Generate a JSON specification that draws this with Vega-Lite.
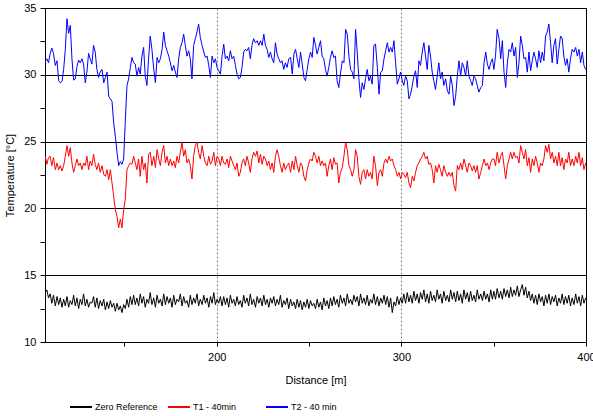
{
"$schema":"https://vega.github.io/schema/vega-lite/v6.json",
"width":541,"height":334,
"autosize":{"type":"none"},
"padding":{"left":45,"top":8,"right":7,"bottom":74},
"background":"white",
"config":{"view":{"stroke":"black","strokeWidth":1},"font":"Liberation Sans"},
"data":{"values":[
{"d":106.2,"z":14.2,"a":23.7,"b":30.55},{"d":107.1,"z":13.7,"a":23.9,"b":31.0},{"d":108.0,"z":13.9,"a":23.3,"b":31.2},{"d":108.9,"z":13.3,"a":23.8,"b":30.9},{"d":109.8,"z":13.6,"a":23.9,"b":31.6},{"d":110.7,"z":12.9,"a":23.2,"b":32.0},{"d":111.6,"z":13.5,"a":23.8,"b":31.6},{"d":112.6,"z":12.7,"a":22.9,"b":30.7},{"d":113.5,"z":13.4,"a":23.4,"b":31.05},{"d":114.4,"z":12.8,"a":22.9,"b":29.55},{"d":115.3,"z":13.3,"a":23.2,"b":29.4},{"d":116.2,"z":12.6,"a":22.8,"b":29.5},{"d":117.1,"z":13.2,"a":23.2,"b":30.4},{"d":118.0,"z":12.7,"a":23.9,"b":31.9},{"d":118.9,"z":13.4,"a":24.7,"b":34.2},{"d":119.8,"z":12.6,"a":23.9,"b":33.1},{"d":120.7,"z":13.1,"a":24.55,"b":33.7},{"d":121.6,"z":12.8,"a":23.4,"b":31.2},{"d":122.5,"z":13.5,"a":22.7,"b":29.6},{"d":123.4,"z":12.7,"a":23.2,"b":29.7},{"d":124.3,"z":13.3,"a":23.7,"b":30.6},{"d":125.2,"z":12.5,"a":23.2,"b":31.1},{"d":126.1,"z":13.2,"a":23.4,"b":30.9},{"d":127.0,"z":12.8,"a":22.9,"b":31.2},{"d":127.9,"z":13.6,"a":23.4,"b":30.8},{"d":128.8,"z":12.7,"a":23.2,"b":29.4},{"d":129.7,"z":13.2,"a":23.9,"b":30.2},{"d":130.6,"z":12.6,"a":22.9,"b":31.6},{"d":131.5,"z":13.0,"a":23.55,"b":31.2},{"d":132.4,"z":12.9,"a":23.2,"b":30.8},{"d":133.3,"z":13.4,"a":24.05,"b":32.2},{"d":134.2,"z":12.6,"a":23.3,"b":31.7},{"d":135.1,"z":13.3,"a":22.9,"b":30.4},{"d":136.0,"z":12.5,"a":23.4,"b":29.8},{"d":136.9,"z":13.1,"a":22.7,"b":30.2},{"d":137.9,"z":12.7,"a":23.2,"b":30.4},{"d":138.8,"z":13.2,"a":22.55,"b":29.4},{"d":139.7,"z":12.4,"a":22.4,"b":29.8},{"d":140.6,"z":13.0,"a":22.9,"b":30.2},{"d":141.5,"z":12.5,"a":22.15,"b":28.4},{"d":142.4,"z":13.1,"a":22.9,"b":28.2},{"d":143.3,"z":12.6,"a":21.9,"b":28.0},{"d":144.2,"z":12.9,"a":20.9,"b":26.4},{"d":145.1,"z":12.3,"a":19.9,"b":25.4},{"d":146.0,"z":12.9,"a":19.4,"b":24.2},{"d":146.9,"z":12.4,"a":18.55,"b":23.2},{"d":147.8,"z":12.7,"a":19.2,"b":23.5},{"d":148.7,"z":12.2,"a":18.55,"b":23.3},{"d":149.6,"z":12.8,"a":19.9,"b":23.7},{"d":150.5,"z":12.5,"a":20.7,"b":26.6},{"d":151.4,"z":13.2,"a":22.9,"b":29.2},{"d":152.3,"z":12.6,"a":23.2,"b":29.7},{"d":153.2,"z":13.4,"a":23.4,"b":30.55},{"d":154.1,"z":12.8,"a":23.3,"b":31.3},
{"d":155.0,"z":13.5,"a":23.9,"b":30.9},{"d":155.9,"z":12.8,"a":23.4,"b":30.8},{"d":156.8,"z":13.3,"a":22.9,"b":29.9},{"d":157.7,"z":12.7,"a":23.7,"b":30.55},{"d":158.6,"z":13.6,"a":22.4,"b":30.05},{"d":159.5,"z":12.9,"a":23.9,"b":31.4},{"d":160.4,"z":13.4,"a":22.9,"b":32.05},{"d":161.3,"z":12.6,"a":23.4,"b":29.9},{"d":162.2,"z":13.2,"a":21.9,"b":29.2},{"d":163.1,"z":12.9,"a":24.05,"b":31.2},{"d":164.0,"z":13.7,"a":24.2,"b":32.9},{"d":164.9,"z":12.8,"a":23.2,"b":31.9},{"d":165.9,"z":13.3,"a":23.9,"b":30.4},{"d":166.8,"z":12.6,"a":23.05,"b":29.4},{"d":167.7,"z":13.5,"a":24.4,"b":31.3},{"d":168.6,"z":12.9,"a":23.7,"b":30.9},{"d":169.5,"z":13.2,"a":23.2,"b":31.2},{"d":170.4,"z":12.7,"a":24.2,"b":31.9},{"d":171.3,"z":13.6,"a":24.7,"b":33.2},{"d":172.2,"z":12.8,"a":23.4,"b":32.2},{"d":173.1,"z":13.4,"a":23.9,"b":31.8},{"d":174.0,"z":12.9,"a":23.2,"b":31.4},{"d":174.9,"z":13.3,"a":23.7,"b":30.9},{"d":175.8,"z":12.6,"a":23.2,"b":30.3},{"d":176.7,"z":13.5,"a":23.55,"b":30.7},{"d":177.6,"z":12.8,"a":23.05,"b":30.2},{"d":178.5,"z":13.2,"a":23.9,"b":29.8},{"d":179.4,"z":13.0,"a":23.4,"b":31.2},{"d":180.3,"z":13.6,"a":24.2,"b":32.05},{"d":181.2,"z":12.7,"a":24.95,"b":32.4},{"d":182.1,"z":13.4,"a":23.9,"b":33.05},{"d":183.0,"z":12.9,"a":24.4,"b":32.2},{"d":183.9,"z":13.1,"a":23.4,"b":31.4},{"d":184.8,"z":12.6,"a":23.7,"b":31.8},{"d":185.7,"z":13.5,"a":23.2,"b":31.2},{"d":186.6,"z":12.8,"a":22.2,"b":29.7},{"d":187.5,"z":13.3,"a":23.9,"b":32.2},{"d":188.4,"z":12.9,"a":24.7,"b":32.7},{"d":189.3,"z":13.6,"a":24.95,"b":33.2},{"d":190.2,"z":12.7,"a":24.2,"b":33.8},{"d":191.1,"z":13.2,"a":23.7,"b":32.8},{"d":192.1,"z":12.8,"a":24.7,"b":32.2},{"d":193.0,"z":13.5,"a":23.9,"b":31.7},{"d":193.9,"z":12.9,"a":23.4,"b":31.3},{"d":194.8,"z":13.3,"a":23.2,"b":31.4},{"d":195.7,"z":12.6,"a":23.9,"b":30.7},{"d":196.6,"z":13.4,"a":23.3,"b":29.8},{"d":197.5,"z":12.9,"a":23.55,"b":31.4},{"d":198.4,"z":13.7,"a":24.2,"b":30.9},{"d":199.3,"z":12.8,"a":23.2,"b":31.2},{"d":200.2,"z":13.2,"a":23.9,"b":30.55},{"d":201.1,"z":12.9,"a":23.7,"b":30.3},{"d":202.0,"z":13.4,"a":23.2,"b":30.05},{"d":202.9,"z":12.7,"a":23.9,"b":31.4},
{"d":203.8,"z":13.4,"a":23.4,"b":32.3},{"d":204.7,"z":12.8,"a":23.3,"b":31.2},{"d":205.6,"z":13.3,"a":23.7,"b":31.4},{"d":206.5,"z":12.6,"a":23.05,"b":31.05},{"d":207.4,"z":13.5,"a":23.9,"b":31.8},{"d":208.3,"z":12.9,"a":23.55,"b":31.2},{"d":209.2,"z":13.2,"a":23.2,"b":31.4},{"d":210.1,"z":12.7,"a":22.9,"b":30.7},{"d":211.0,"z":13.4,"a":23.4,"b":30.05},{"d":211.9,"z":12.8,"a":22.4,"b":29.7},{"d":212.8,"z":13.1,"a":22.7,"b":29.8},{"d":213.7,"z":12.6,"a":23.4,"b":30.55},{"d":214.6,"z":13.5,"a":23.7,"b":31.7},{"d":215.5,"z":12.9,"a":23.2,"b":31.9},{"d":216.4,"z":13.3,"a":23.9,"b":31.8},{"d":217.3,"z":12.7,"a":23.4,"b":32.05},{"d":218.2,"z":13.6,"a":22.7,"b":31.2},{"d":219.1,"z":12.8,"a":23.7,"b":32.2},{"d":220.0,"z":13.2,"a":24.2,"b":32.7},{"d":221.0,"z":12.6,"a":23.9,"b":32.4},{"d":221.9,"z":13.4,"a":24.3,"b":32.55},{"d":222.8,"z":12.9,"a":23.4,"b":32.2},{"d":223.7,"z":13.3,"a":24.05,"b":32.55},{"d":224.6,"z":12.7,"a":23.3,"b":32.2},{"d":225.5,"z":13.5,"a":23.9,"b":33.05},{"d":226.4,"z":12.8,"a":23.7,"b":32.2},{"d":227.3,"z":13.2,"a":23.2,"b":31.9},{"d":228.2,"z":12.6,"a":23.55,"b":31.3},{"d":229.1,"z":13.3,"a":22.9,"b":31.7},{"d":230.0,"z":12.9,"a":23.4,"b":31.2},{"d":230.9,"z":13.4,"a":22.7,"b":30.9},{"d":231.8,"z":12.7,"a":23.9,"b":32.4},{"d":232.7,"z":13.2,"a":24.4,"b":31.55},{"d":233.6,"z":12.8,"a":23.9,"b":31.2},{"d":234.5,"z":13.5,"a":23.2,"b":30.9},{"d":235.4,"z":12.6,"a":22.7,"b":31.05},{"d":236.3,"z":13.1,"a":23.4,"b":30.4},{"d":237.2,"z":12.8,"a":22.9,"b":30.9},{"d":238.1,"z":13.3,"a":23.2,"b":30.55},{"d":239.0,"z":12.5,"a":23.4,"b":31.2},{"d":240.0,"z":13.2,"a":22.7,"b":31.3},{"d":240.9,"z":12.7,"a":23.55,"b":30.05},{"d":241.8,"z":13.0,"a":22.9,"b":31.55},{"d":242.7,"z":12.5,"a":23.9,"b":31.9},{"d":243.6,"z":13.2,"a":23.2,"b":31.2},{"d":244.5,"z":12.6,"a":22.7,"b":30.55},{"d":245.4,"z":13.1,"a":23.4,"b":31.7},{"d":246.3,"z":12.4,"a":23.2,"b":30.8},{"d":247.2,"z":13.0,"a":22.4,"b":29.8},{"d":248.1,"z":12.6,"a":22.05,"b":29.55},{"d":249.0,"z":13.2,"a":22.9,"b":30.4},{"d":249.9,"z":12.5,"a":23.4,"b":31.2},{"d":250.8,"z":13.1,"a":23.7,"b":31.7},{"d":251.7,"z":12.7,"a":23.55,"b":31.3},
{"d":252.6,"z":12.9,"a":24.2,"b":32.8},{"d":253.5,"z":12.5,"a":23.9,"b":32.2},{"d":254.4,"z":13.2,"a":23.4,"b":31.55},{"d":255.3,"z":12.6,"a":23.9,"b":32.05},{"d":256.2,"z":13.0,"a":23.2,"b":32.55},{"d":257.1,"z":12.4,"a":23.55,"b":31.4},{"d":258.0,"z":13.3,"a":23.2,"b":31.2},{"d":258.9,"z":12.7,"a":23.4,"b":30.4},{"d":259.8,"z":13.1,"a":22.4,"b":29.9},{"d":260.7,"z":12.5,"a":23.2,"b":30.55},{"d":261.6,"z":13.3,"a":23.7,"b":31.3},{"d":262.5,"z":12.7,"a":22.9,"b":31.8},{"d":263.4,"z":13.4,"a":23.8,"b":31.3},{"d":264.3,"z":12.8,"a":23.3,"b":31.4},{"d":265.2,"z":13.2,"a":23.4,"b":29.55},{"d":266.1,"z":12.6,"a":21.9,"b":29.05},{"d":267.0,"z":13.5,"a":22.7,"b":30.05},{"d":268.0,"z":12.9,"a":23.05,"b":31.05},{"d":268.9,"z":13.3,"a":23.9,"b":30.9},{"d":269.8,"z":12.7,"a":24.95,"b":33.4},{"d":270.7,"z":13.6,"a":24.4,"b":33.05},{"d":271.6,"z":12.9,"a":23.2,"b":31.4},{"d":272.5,"z":13.2,"a":22.9,"b":30.4},{"d":273.4,"z":12.8,"a":22.4,"b":30.2},{"d":274.3,"z":13.5,"a":22.9,"b":29.7},{"d":275.2,"z":13.0,"a":24.4,"b":33.4},{"d":276.1,"z":13.4,"a":23.9,"b":31.7},{"d":277.0,"z":12.7,"a":22.4,"b":29.7},{"d":277.9,"z":13.6,"a":21.8,"b":28.3},{"d":278.8,"z":12.9,"a":22.7,"b":29.4},{"d":279.7,"z":13.3,"a":22.9,"b":28.9},{"d":280.6,"z":12.8,"a":22.2,"b":29.7},{"d":281.5,"z":13.5,"a":22.9,"b":30.4},{"d":282.4,"z":12.7,"a":22.4,"b":29.55},{"d":283.3,"z":13.2,"a":22.7,"b":29.9},{"d":284.2,"z":12.9,"a":22.2,"b":29.3},{"d":285.1,"z":13.6,"a":23.9,"b":32.2},{"d":286.0,"z":12.8,"a":23.2,"b":32.3},{"d":287.0,"z":13.4,"a":21.7,"b":30.55},{"d":287.9,"z":12.7,"a":22.7,"b":28.55},{"d":288.8,"z":13.3,"a":22.9,"b":30.2},{"d":289.7,"z":12.9,"a":22.4,"b":30.3},{"d":290.6,"z":13.5,"a":23.4,"b":31.2},{"d":291.5,"z":12.8,"a":23.7,"b":31.8},{"d":292.4,"z":13.4,"a":23.4,"b":32.4},{"d":293.3,"z":12.6,"a":23.9,"b":31.7},{"d":294.2,"z":13.3,"a":23.55,"b":32.05},{"d":295.1,"z":12.2,"a":23.7,"b":31.7},{"d":296.0,"z":13.0,"a":23.2,"b":32.55},{"d":296.9,"z":12.7,"a":22.9,"b":30.9},{"d":297.8,"z":13.4,"a":22.4,"b":29.3},{"d":298.7,"z":12.8,"a":22.7,"b":29.7},{"d":299.6,"z":13.3,"a":22.2,"b":30.2},{"d":300.5,"z":12.9,"a":22.7,"b":29.55},
{"d":301.3,"z":13.6,"a":22.55,"b":29.2},{"d":302.3,"z":12.9,"a":22.3,"b":29.9},{"d":303.2,"z":13.7,"a":22.7,"b":29.55},{"d":304.1,"z":13.0,"a":21.9,"b":28.2},{"d":305.0,"z":13.5,"a":21.55,"b":28.55},{"d":305.9,"z":12.9,"a":22.4,"b":29.2},{"d":306.8,"z":13.8,"a":22.05,"b":29.9},{"d":307.7,"z":13.1,"a":22.7,"b":30.3},{"d":308.6,"z":13.6,"a":23.2,"b":29.05},{"d":309.5,"z":12.9,"a":23.4,"b":31.05},{"d":310.4,"z":13.7,"a":23.7,"b":30.7},{"d":311.3,"z":13.2,"a":23.9,"b":31.7},{"d":312.2,"z":13.9,"a":24.2,"b":32.4},{"d":313.1,"z":13.0,"a":23.7,"b":31.4},{"d":314.0,"z":13.6,"a":23.9,"b":30.4},{"d":314.9,"z":12.9,"a":23.3,"b":32.2},{"d":315.8,"z":13.8,"a":23.4,"b":31.4},{"d":316.7,"z":13.1,"a":22.9,"b":30.2},{"d":317.6,"z":13.5,"a":21.9,"b":29.55},{"d":318.5,"z":13.0,"a":23.2,"b":28.9},{"d":319.4,"z":13.9,"a":22.7,"b":29.9},{"d":320.3,"z":13.2,"a":23.3,"b":30.9},{"d":321.2,"z":13.6,"a":22.9,"b":29.7},{"d":322.1,"z":12.9,"a":22.4,"b":30.2},{"d":323.0,"z":13.8,"a":23.2,"b":29.2},{"d":324.0,"z":13.1,"a":22.7,"b":29.7},{"d":324.9,"z":13.5,"a":22.4,"b":28.8},{"d":325.8,"z":13.0,"a":22.7,"b":28.55},{"d":326.7,"z":13.9,"a":22.4,"b":29.9},{"d":327.6,"z":13.2,"a":22.7,"b":29.2},{"d":328.5,"z":13.7,"a":21.7,"b":27.7},{"d":329.4,"z":13.0,"a":21.3,"b":28.4},{"d":330.3,"z":13.8,"a":23.2,"b":29.9},{"d":331.2,"z":13.1,"a":22.9,"b":31.05},{"d":332.1,"z":13.6,"a":23.4,"b":29.9},{"d":333.0,"z":12.9,"a":22.9,"b":30.9},{"d":333.9,"z":13.9,"a":23.7,"b":30.55},{"d":334.8,"z":13.2,"a":23.2,"b":29.9},{"d":335.7,"z":13.7,"a":22.7,"b":31.05},{"d":336.6,"z":13.0,"a":23.4,"b":29.9},{"d":337.5,"z":13.8,"a":23.2,"b":29.55},{"d":338.4,"z":13.1,"a":22.8,"b":29.2},{"d":339.3,"z":13.5,"a":23.2,"b":29.9},{"d":340.2,"z":13.0,"a":22.7,"b":29.7},{"d":341.1,"z":13.9,"a":23.2,"b":29.2},{"d":342.0,"z":13.2,"a":22.2,"b":28.7},{"d":343.0,"z":13.6,"a":22.7,"b":29.05},{"d":343.9,"z":13.1,"a":23.2,"b":29.2},{"d":344.8,"z":13.8,"a":23.7,"b":30.9},{"d":345.7,"z":13.2,"a":23.2,"b":31.7},{"d":346.6,"z":13.6,"a":23.4,"b":30.8},{"d":347.5,"z":13.0,"a":22.9,"b":30.4},{"d":348.4,"z":13.9,"a":23.4,"b":30.9},{"d":349.3,"z":13.2,"a":23.7,"b":31.2},
{"d":350.1,"z":13.8,"a":23.7,"b":30.4},{"d":351.0,"z":13.2,"a":23.2,"b":31.4},{"d":351.9,"z":14.0,"a":24.2,"b":33.4},{"d":352.9,"z":13.3,"a":23.4,"b":32.7},{"d":353.8,"z":13.8,"a":23.9,"b":31.2},{"d":354.7,"z":13.2,"a":24.2,"b":32.55},{"d":355.6,"z":14.0,"a":23.2,"b":30.2},{"d":356.5,"z":13.4,"a":22.2,"b":29.05},{"d":357.4,"z":13.9,"a":23.2,"b":30.9},{"d":358.3,"z":13.3,"a":23.7,"b":31.9},{"d":359.2,"z":14.1,"a":24.2,"b":31.7},{"d":360.1,"z":13.4,"a":23.7,"b":32.4},{"d":361.0,"z":13.9,"a":24.2,"b":31.4},{"d":361.9,"z":13.5,"a":23.8,"b":32.05},{"d":362.8,"z":14.2,"a":23.9,"b":29.8},{"d":363.7,"z":13.4,"a":23.4,"b":30.9},{"d":364.6,"z":13.9,"a":24.7,"b":32.9},{"d":365.5,"z":14.3,"a":24.2,"b":32.2},{"d":366.4,"z":13.5,"a":23.7,"b":31.2},{"d":367.3,"z":14.1,"a":24.4,"b":31.3},{"d":368.2,"z":13.3,"a":23.2,"b":30.2},{"d":369.1,"z":13.8,"a":23.8,"b":31.7},{"d":370.0,"z":13.1,"a":22.7,"b":30.3},{"d":370.9,"z":13.6,"a":23.7,"b":31.05},{"d":371.8,"z":12.9,"a":23.2,"b":31.7},{"d":372.7,"z":13.5,"a":23.9,"b":31.2},{"d":373.6,"z":12.8,"a":23.4,"b":30.55},{"d":374.5,"z":13.6,"a":22.7,"b":31.8},{"d":375.4,"z":13.0,"a":23.4,"b":30.9},{"d":376.3,"z":13.4,"a":23.2,"b":31.7},{"d":377.2,"z":12.7,"a":23.7,"b":31.05},{"d":378.1,"z":13.5,"a":24.7,"b":32.9},{"d":379.0,"z":12.9,"a":24.2,"b":33.2},{"d":379.9,"z":13.6,"a":24.8,"b":33.8},{"d":380.8,"z":12.8,"a":23.7,"b":32.4},{"d":381.7,"z":13.4,"a":24.2,"b":30.9},{"d":382.6,"z":13.0,"a":23.4,"b":32.2},{"d":383.5,"z":13.5,"a":23.9,"b":32.7},{"d":384.4,"z":12.7,"a":23.2,"b":30.8},{"d":385.3,"z":13.3,"a":24.2,"b":31.9},{"d":386.2,"z":12.9,"a":23.2,"b":32.9},{"d":387.1,"z":13.6,"a":23.8,"b":32.7},{"d":388.0,"z":12.8,"a":22.9,"b":31.4},{"d":388.9,"z":13.4,"a":23.7,"b":30.7},{"d":389.8,"z":12.9,"a":23.4,"b":31.2},{"d":390.7,"z":13.5,"a":24.2,"b":30.2},{"d":391.6,"z":12.7,"a":23.2,"b":31.2},{"d":392.5,"z":13.3,"a":23.7,"b":31.9},{"d":393.5,"z":12.8,"a":23.2,"b":31.7},{"d":394.4,"z":13.6,"a":23.9,"b":32.05},{"d":395.3,"z":12.9,"a":23.4,"b":31.4},{"d":396.2,"z":13.4,"a":24.2,"b":31.9},{"d":397.1,"z":12.7,"a":23.2,"b":30.9},{"d":398.0,"z":13.5,"a":23.8,"b":31.7},{"d":398.9,"z":12.9,"a":22.9,"b":30.7},{"d":399.8,"z":13.3,"a":23.4,"b":30.4}
]},
"transform":[{"fold":["z","a","b"],"as":["s","v"]}],
"mark":{"type":"line","strokeWidth":1,"clip":true},
"encoding":{
"x":{"field":"d","type":"quantitative","scale":{"domain":[107,400],"nice":false,"zero":false},
"axis":{"title":"Distance [m]","values":[150,200,250,300,350,400],"labelExpr":"datum.value % 100 === 0 ? datum.label : ''","labelFlush":false,"labelOverlap":false,"labelFontSize":11,"labelColor":"black","labelPadding":5,"tickSize":4,"tickColor":"black","domainColor":"black","titleFontSize":11,"titleFontWeight":"normal","titleColor":"black","titlePadding":12,"grid":true,"gridColor":"#808080","gridDash":[2,2],"gridOpacity":{"condition":{"test":"datum.value === 200 || datum.value === 300","value":1},"value":0}}},
"y":{"field":"v","type":"quantitative","scale":{"domain":[10,35],"nice":false,"zero":false},
"axis":{"title":"Temperature [°C]","values":[10,12.5,15,17.5,20,22.5,25,27.5,30,32.5,35],"labelExpr":"datum.value % 5 === 0 ? datum.label : ''","labelFlush":false,"labelOverlap":false,"labelFontSize":11,"labelColor":"black","labelPadding":4,"tickSize":5,"tickColor":"black","domainColor":"black","titleFontSize":11,"titleFontWeight":"normal","titleColor":"black","titlePadding":8,"grid":true,"gridColor":"black","gridOpacity":{"condition":{"test":"datum.value % 5 === 0","value":1},"value":0}}},
"color":{"field":"s","type":"nominal","scale":{"domain":["z","a","b"],"range":["#000000","#ff0000","#0000ff"]},
"legend":{"orient":"none","legendX":24,"legendY":387,"direction":"horizontal","title":null,"padding":0,"symbolType":"stroke","symbolSize":484,"symbolStrokeWidth":2,"labelFontSize":9,"labelColor":"black","labelOffset":2,"columnPadding":6,"gridAlign":"all","labelExpr":"datum.label === 'z' ? 'Zero Reference' : datum.label === 'a' ? 'T1 - 40min' : 'T2 - 40 min'"}}
}
}
